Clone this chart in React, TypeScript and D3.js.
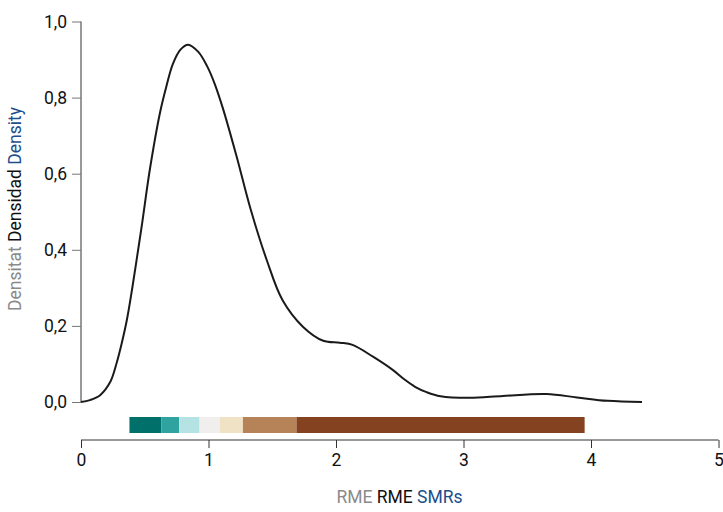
import React, { useEffect, useRef } from "react";
import * as d3 from "d3";

// density curve (SMR value, density)
const smrValues = [0, 0.07, 0.15, 0.23, 0.28, 0.32, 0.36, 0.4, 0.44, 0.48, 0.54, 0.62, 0.67, 0.72, 0.78, 0.84, 0.92, 0.99, 1.05, 1.11, 1.22, 1.33, 1.46, 1.58, 1.74, 1.9, 2.03, 2.13, 2.29, 2.45, 2.53, 2.62, 2.71, 2.82, 3.05, 3.31, 3.65, 3.89, 4.13, 4.4];
const densityValues = [0, 0.005, 0.018, 0.053, 0.103, 0.155, 0.216, 0.295, 0.382, 0.471, 0.611, 0.761, 0.83, 0.888, 0.926, 0.939, 0.92, 0.882, 0.835, 0.775, 0.646, 0.507, 0.37, 0.268, 0.198, 0.161, 0.156, 0.15, 0.119, 0.083, 0.061, 0.04, 0.026, 0.015, 0.011, 0.016, 0.021, 0.012, 0.003, 0];

// colour bar break points and colours
const breaks = [0.38, 0.63, 0.77, 0.93, 1.09, 1.27, 1.69, 3.95];
const binColors = ["#00706a", "#2ea39f", "#b5e2e3", "#f1efee", "#efe2c5", "#b58357", "#844221"];

const yTicks = [0, 0.2, 0.4, 0.6, 0.8, 1.0];
const xTicks = [0, 1, 2, 3, 4, 5];

const FONT = "Roboto, 'DejaVu Sans', sans-serif";

export default function App() {
  const ref = useRef<SVGSVGElement>(null);

  useEffect(() => {
    const svg = d3.select(ref.current);
    svg.selectAll("*").remove();

    const x = d3.scaleLinear().domain([0, 5]).range([81, 718.5]);
    const y = d3.scaleLinear().domain([0, 1]).range([402, 21.5]);

    // y axis
    const yAxis = d3.axisLeft(y)
      .tickValues(yTicks)
      .tickSize(9)
      .tickPadding(5)
      .tickFormat((d) => d3.format(".1f")(d as number).replace(".", ","));
    const gy = svg.append("g").attr("transform", "translate(81,0)").call(yAxis);
    gy.select(".domain").attr("stroke", "#333").attr("d", `M0,${y(1)}V${y(0)}`);
    gy.selectAll(".tick line").attr("stroke", "#777");
    gy.selectAll(".tick text")
      .attr("fill", "#111")
      .style("font-family", FONT)
      .style("font-size", "17.5px");

    // x axis
    const xAxis = d3.axisBottom(x)
      .tickValues(xTicks)
      .tickSize(8)
      .tickPadding(6)
      .tickFormat(d3.format("d"));
    const gx = svg.append("g").attr("transform", "translate(0,440)").call(xAxis);
    gx.select(".domain").attr("stroke", "#333").attr("d", `M${x(0)},0H${x(5)}`);
    gx.selectAll(".tick line").attr("stroke", "#333");
    gx.selectAll(".tick text")
      .attr("fill", "#111")
      .style("font-family", FONT)
      .style("font-size", "17.5px");

    // colour bar
    svg.append("g")
      .selectAll("rect")
      .data(binColors)
      .join("rect")
      .attr("x", (d, i) => x(breaks[i]))
      .attr("width", (d, i) => x(breaks[i + 1]) - x(breaks[i]))
      .attr("y", 417)
      .attr("height", 16)
      .attr("fill", (d) => d);

    // density line
    const pts = smrValues.map((v, i) => [v, densityValues[i]] as [number, number]);
    const line = d3.line<[number, number]>()
      .x((d) => x(d[0]))
      .y((d) => y(d[1]))
      .curve(d3.curveCatmullRom.alpha(0.5));
    svg.append("path")
      .datum(pts)
      .attr("d", line)
      .attr("fill", "none")
      .attr("stroke", "#1a1a1a")
      .attr("stroke-width", 2);

    // y label
    const yl = svg.append("text")
      .attr("transform", "translate(21,209) rotate(-90)")
      .attr("text-anchor", "middle")
      .style("font-family", FONT)
      .style("font-size", "17.5px");
    yl.append("tspan").attr("fill", "#8a8a8a").text("Densitat ");
    yl.append("tspan").attr("fill", "#111").text("Densidad ");
    yl.append("tspan").attr("fill", "#1c4f8c").text("Density");

    // x label
    const xl = svg.append("text")
      .attr("x", 399.5)
      .attr("y", 503)
      .attr("text-anchor", "middle")
      .style("font-family", FONT)
      .style("font-size", "17.5px");
    xl.append("tspan").attr("fill", "#8a8a8a").text("RME ");
    xl.append("tspan").attr("fill", "#111").text("RME ");
    xl.append("tspan").attr("fill", "#1c4f8c").text("SMRs");
  }, []);

  return (
    <div style={{ position: "absolute", left: 0, top: 0 }}>
      <svg ref={ref} width={723} height={512} style={{ display: "block", background: "#fff" }} />
    </div>
  );
}
